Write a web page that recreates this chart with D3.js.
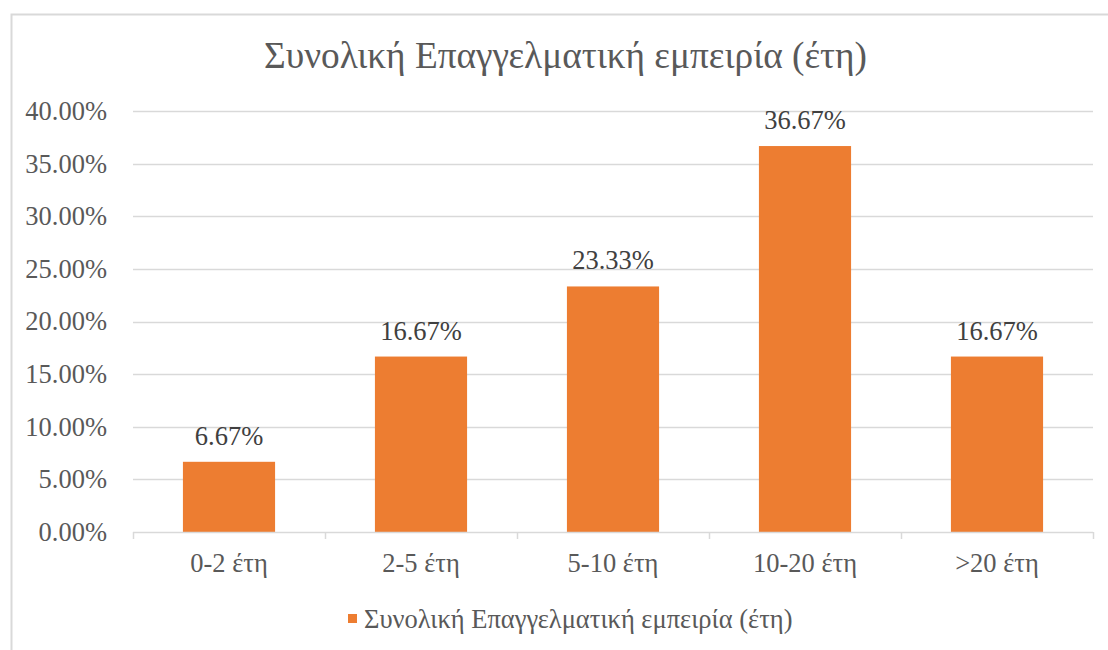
<!DOCTYPE html>
<html>
<head>
<meta charset="utf-8">
<script src="https://cdn.jsdelivr.net/npm/d3@7"></script>
<style>
  body { margin: 0; background: #fff; }
</style>
</head>
<body>
<div id="chart"></div>
<script>
var categories = ['0-2 έτη', '2-5 έτη', '5-10 έτη', '10-20 έτη', '>20 έτη'];
var values = [6.67, 16.67, 23.33, 36.67, 16.67];
var yTicks = [0, 5, 10, 15, 20, 25, 30, 35, 40];
var title = 'Συνολική Επαγγελματική εμπειρία (έτη)';

const serif = "'Liberation Serif', 'Times New Roman', serif";
const margin = { left: 133, right: 15, top: 111, bottom: 118 };
const width = 1108, height = 650;
const chartWidth = width - margin.left - margin.right;
const chartHeight = height - margin.top - margin.bottom;

var svg = d3.select('#chart')
  .append('svg')
  .attr('width', width)
  .attr('height', height)
  .style('font-family', serif);

// frame
svg.append('rect')
  .attr('x', 11.5).attr('y', 14.5)
  .attr('width', 1120).attr('height', 660)
  .attr('fill', 'none')
  .attr('stroke', '#d9d9d9')
  .attr('stroke-width', 2);

// title
svg.append('text')
  .attr('x', 565.5).attr('y', 68)
  .attr('text-anchor', 'middle')
  .attr('font-size', '37.3px')
  .attr('fill', '#595959')
  .text(title);

var scaleX = d3.scaleBand()
  .domain(categories)
  .range([0, chartWidth])
  .paddingInner(0.52)
  .paddingOuter(0.26);

var scaleY = d3.scaleLinear()
  .domain([0, 40])
  .range([chartHeight, 0]);

var group = svg.append('g')
  .attr('transform', 'translate(' + margin.left + ',' + margin.top + ')');

// gridlines
group.selectAll('.grid')
  .data(yTicks.filter(function (d) { return d > 0; }))
  .enter()
  .append('line')
  .attr('x1', 0).attr('x2', chartWidth)
  .attr('y1', function (d) { return Math.round(scaleY(d)) + 0.5; })
  .attr('y2', function (d) { return Math.round(scaleY(d)) + 0.5; })
  .attr('stroke', '#d9d9d9')
  .attr('stroke-width', 1.5);

// y axis labels
var axisY = d3.axisLeft(scaleY)
  .tickValues(yTicks)
  .tickSize(0)
  .tickPadding(26)
  .tickFormat(function (d) { return d.toFixed(2) + '%'; });

group.append('g')
  .call(axisY)
  .attr('font-family', null)
  .attr('font-size', null)
  .call(function (g) { g.select('.domain').remove(); })
  .selectAll('text')
  .attr('font-size', '26.5px')
  .attr('fill', '#595959');

// bars
group.selectAll('.bar')
  .data(values)
  .enter()
  .append('rect')
  .attr('x', function (d, i) { return scaleX(categories[i]); })
  .attr('y', function (d) { return scaleY(d); })
  .attr('width', scaleX.bandwidth())
  .attr('height', function (d) { return chartHeight - scaleY(d); })
  .attr('fill', '#ed7d31');

// data labels
group.selectAll('.label')
  .data(values)
  .enter()
  .append('text')
  .attr('x', function (d, i) { return scaleX(categories[i]) + scaleX.bandwidth() / 2; })
  .attr('y', function (d) { return scaleY(d) - 17; })
  .attr('text-anchor', 'middle')
  .attr('font-size', '26.5px')
  .attr('fill', '#404040')
  .text(function (d) { return d.toFixed(2) + '%'; });

// x axis
var boundaries = d3.range(categories.length + 1).map(function (i) { return i * chartWidth / categories.length; });

var xAxis = group.append('g')
  .attr('transform', 'translate(0,' + chartHeight + ')');

xAxis.append('line')
  .attr('x1', 0).attr('x2', chartWidth)
  .attr('y1', 0.5).attr('y2', 0.5)
  .attr('stroke', '#d9d9d9')
  .attr('stroke-width', 1.5);

xAxis.selectAll('.tick')
  .data(boundaries)
  .enter()
  .append('line')
  .attr('x1', function (d) { return Math.round(d) + 0.5; })
  .attr('x2', function (d) { return Math.round(d) + 0.5; })
  .attr('y1', 0).attr('y2', 7)
  .attr('stroke', '#d9d9d9')
  .attr('stroke-width', 1.5);

xAxis.selectAll('.xlabel')
  .data(categories)
  .enter()
  .append('text')
  .attr('x', function (d) { return scaleX(d) + scaleX.bandwidth() / 2; })
  .attr('y', 40)
  .attr('text-anchor', 'middle')
  .attr('font-size', '26.5px')
  .attr('fill', '#595959')
  .text(function (d) { return d; });

// legend
var legend = svg.append('g')
  .attr('transform', 'translate(348,628)');

legend.append('rect')
  .attr('x', 0).attr('y', -14)
  .attr('width', 9).attr('height', 9)
  .attr('fill', '#ed7d31');

legend.append('text')
  .attr('x', 16).attr('y', 0)
  .attr('font-size', '26.5px')
  .attr('fill', '#595959')
  .text(title);
</script>
</body>
</html>
